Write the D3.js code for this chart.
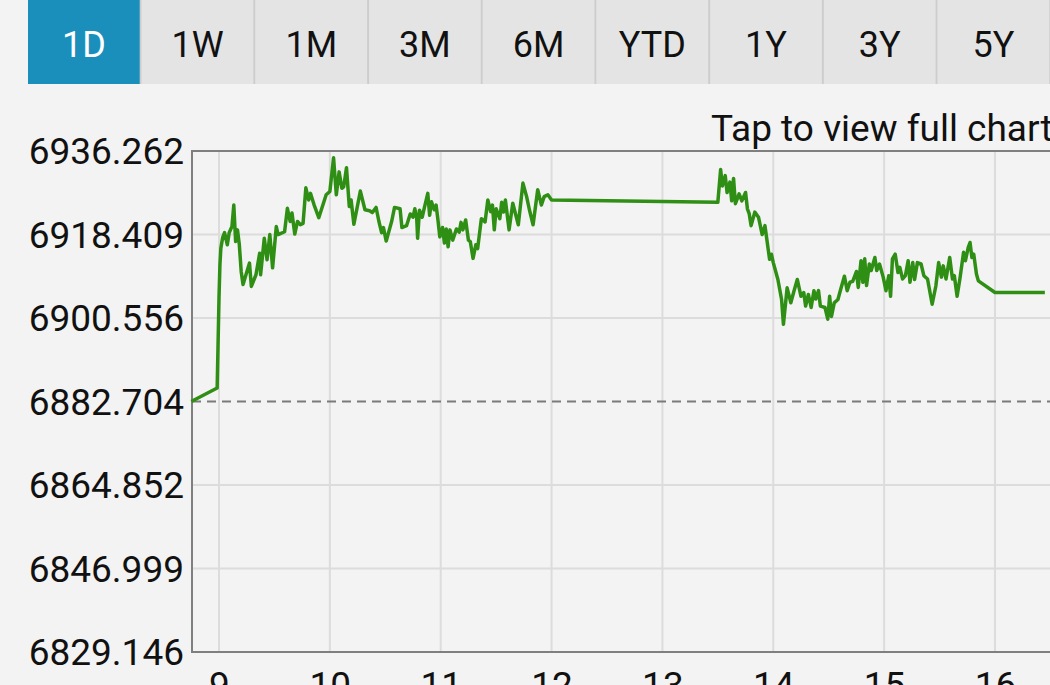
<!DOCTYPE html>
<html>
<head>
<meta charset="utf-8">
<script src="https://cdn.jsdelivr.net/npm/d3@7"></script>
<style>
  body { margin: 0; background: #f3f3f3; overflow: hidden; }
  text { font-family: Roboto, "Noto Sans", sans-serif; }
</style>
</head>
<body>
<div id="chart"></div>
<script>
var tabLabels = ['1D','1W','1M','3M','6M','YTD','1Y','3Y','5Y'];
var activeTab = '1D';
var yTicks = [6829.146, 6846.999, 6864.852, 6882.704, 6900.556, 6918.409, 6936.262];
var prevClose = 6882.704;
var xTickHours = [9,10,11,12,13,14,15,16];
var xStart = '08:45:00', xEnd = '16:30:00';

var times = [
  '08:45:00','08:59:00','09:00:00','09:00:30','09:01:00','09:02:00','09:03:00','09:04:30','09:05:30','09:07:00',
  '09:08:00','09:09:00','09:10:00','09:11:00','09:12:00','09:13:00','09:16:30','09:17:30','09:20:00','09:22:00',
  '09:22:30','09:24:30','09:26:00','09:27:30','09:29:00','09:31:00','09:32:00','09:35:30','09:37:00','09:38:30',
  '09:39:30','09:41:00','09:42:30','09:44:00','09:45:30','09:47:00','09:48:30','09:49:30','09:51:30','09:54:00',
  '09:58:00','10:00:00','10:02:00','10:03:30','10:05:00','10:06:30','10:07:30','10:09:00','10:10:30','10:11:30',
  '10:13:00','10:16:30','10:19:00','10:21:30','10:23:00','10:25:00','10:26:30','10:28:00','10:29:00','10:30:30',
  '10:33:30','10:35:00','10:38:00','10:39:00','10:41:30','10:43:30','10:45:00','10:46:00','10:47:00','10:47:30',
  '10:48:30','10:50:00','10:51:00','10:53:00','10:54:00','10:55:00','10:56:30','10:57:30','10:58:30','10:59:30',
  '11:01:00','11:02:00','11:03:00','11:04:00','11:05:00','11:06:30','11:08:30','11:10:00','11:11:00','11:12:00',
  '11:13:30','11:15:00','11:16:00','11:17:30','11:19:00','11:20:00','11:22:00','11:24:00','11:25:30','11:27:00',
  '11:28:00','11:29:00','11:30:00','11:32:00','11:33:00','11:34:00','11:35:00','11:37:00','11:39:00','11:42:00',
  '11:44:30','11:46:30','11:48:00','11:50:00','11:52:30','11:54:30','11:56:00','11:58:00','12:00:00','13:30:00',
  '13:31:30','13:32:30','13:34:00','13:35:00','13:36:30','13:37:30','13:38:30','13:39:30','13:41:30','13:43:00',
  '13:45:00','13:46:00','13:47:00','13:48:00','13:50:00','13:52:00','13:54:00','13:55:30','13:58:00','13:59:00',
  '14:00:00','14:02:30','14:04:30','14:05:30','14:07:30','14:09:30','14:11:00','14:13:00','14:15:00','14:16:30',
  '14:17:30','14:19:00','14:20:30','14:22:00','14:23:00','14:24:30','14:25:30','14:28:00','14:29:30','14:30:30',
  '14:31:30','14:33:00','14:35:00','14:36:30','14:38:30','14:40:00','14:41:30','14:43:00','14:45:00','14:46:00',
  '14:47:30','14:48:30','14:49:30','14:50:30','14:52:00','14:53:00','14:55:00','14:56:00','14:57:30','14:59:30',
  '15:01:00','15:02:30','15:03:30','15:04:30','15:06:00','15:07:30','15:08:30','15:10:00','15:11:30','15:13:00',
  '15:14:00','15:15:30','15:16:30','15:18:00','15:20:00','15:21:30','15:23:30','15:26:00','15:28:00','15:29:30',
  '15:31:00','15:32:00','15:33:30','15:35:30','15:37:00','15:38:00','15:39:30','15:41:00','15:43:00','15:44:00',
  '15:45:30','15:46:30','15:47:30','15:48:30','15:50:00','15:51:00','16:00:00','16:27:00'
];
var prices = [
  6882.70,6885.60,6905.0,6912.0,6915.5,6917.8,6918.8,6916.2,6918.8,6920.1,
  6924.7,6916.9,6919.4,6916.2,6910.5,6907.7,6912.3,6907.3,6909.8,6914.4,
  6909.8,6917.6,6913.0,6918.4,6911.3,6920.1,6918.4,6919.0,6924.0,6921.2,
  6923.0,6918.5,6921.2,6920.5,6920.8,6928.4,6925.8,6927.2,6924.7,6922.0,
  6926.9,6927.6,6934.8,6926.9,6931.8,6928.3,6928.6,6932.7,6924.4,6925.8,
  6920.6,6927.7,6923.7,6923.5,6923.1,6924.2,6921.3,6918.8,6919.9,6917.0,
  6921.3,6924.2,6923.9,6919.9,6920.3,6922.8,6922.1,6923.9,6921.9,6917.6,
  6923.6,6922.1,6923.9,6927.2,6922.5,6925.4,6923.7,6924.7,6921.5,6917.9,
  6919.9,6916.6,6919.6,6915.8,6919.4,6917.2,6919.6,6918.9,6921.0,6919.4,
  6921.5,6917.2,6916.9,6913.3,6916.2,6915.4,6921.8,6921.1,6925.8,6923.3,
  6924.7,6919.4,6923.9,6921.8,6925.3,6923.2,6925.8,6919.4,6925.1,6920.5,
  6929.4,6926.5,6923.7,6920.5,6928.0,6924.7,6926.5,6926.9,6925.8,6925.3,
  6932.3,6928.8,6931.0,6927.4,6929.6,6925.6,6930.4,6925.0,6927.1,6925.6,
  6927.4,6923.9,6922.8,6920.3,6923.2,6922.1,6918.4,6920.3,6913.1,6914.2,
  6912.4,6908.8,6904.5,6899.2,6907.0,6903.8,6906.0,6908.8,6905.2,6906.0,
  6903.1,6905.6,6902.8,6906.4,6904.6,6906.4,6903.1,6902.8,6900.3,6905.2,
  6900.9,6903.8,6904.5,6906.7,6909.5,6906.4,6908.2,6908.4,6910.5,6907.1,
  6912.8,6908.2,6913.2,6907.5,6912.1,6910.7,6913.5,6910.7,6912.1,6909.3,
  6906.4,6909.6,6905.2,6913.2,6914.2,6910.3,6911.4,6908.9,6909.6,6912.8,
  6908.2,6912.4,6908.8,6912.4,6912.1,6909.6,6908.9,6903.5,6907.4,6912.4,
  6909.3,6911.7,6908.9,6913.5,6908.9,6909.6,6905.2,6908.9,6914.6,6912.8,
  6915.6,6916.7,6913.5,6914.2,6909.9,6908.5,6906.0,6906.0
];

var width = 1050, height = 685;
var parseTime = d3.timeParse('%H:%M:%S');

var data = times.map(function(t, i){ return {t: parseTime(t), v: prices[i]}; });

var svg = d3.select('#chart').append('svg')
    .attr('width', width)
    .attr('height', height);

// period tabs
var tabX = d3.scaleBand().domain(tabLabels).range([28, 28 + 113.7 * tabLabels.length]);
var tabs = svg.selectAll('.tab').data(tabLabels).enter().append('g')
    .attr('class', 'tab')
    .attr('transform', d => 'translate(' + tabX(d) + ',0)');
tabs.append('rect')
    .attr('width', tabX.bandwidth())
    .attr('height', 84)
    .attr('fill', '#cdcdcd');
tabs.append('rect')
    .attr('width', tabX.bandwidth() - 2)
    .attr('height', 84)
    .attr('fill', d => d === activeTab ? '#1a8fbb' : '#e4e4e4');
tabs.append('text')
    .attr('x', (tabX.bandwidth() - 2) / 2)
    .attr('y', 57)
    .attr('text-anchor', 'middle')
    .style('font-size', '36px')
    .attr('fill', d => d === activeTab ? '#ffffff' : '#111111')
    .text(d => d);

svg.append('text')
    .attr('x', 711)
    .attr('y', 141)
    .style('font-size', '37px')
    .attr('fill', '#111')
    .text('Tap to view full chart');

var x = d3.scaleTime()
    .domain([parseTime(xStart), parseTime(xEnd)])
    .range([191.3, 1050.4]);
var y = d3.scaleLinear()
    .domain([yTicks[0], yTicks[yTicks.length - 1]])
    .range([652, 151]);

var hourTicks = xTickHours.map(h => parseTime(d3.format('02')(h) + ':00:00'));

// grid
svg.append('g')
    .selectAll('line.hgrid').data(yTicks.slice(1, -1).filter(v => v !== prevClose)).enter()
    .append('line')
    .attr('x1', 192).attr('x2', width)
    .attr('y1', d => y(d)).attr('y2', d => y(d))
    .attr('stroke', '#dcdcdc').attr('stroke-width', 2);
svg.append('g')
    .selectAll('line.vgrid').data(hourTicks).enter()
    .append('line')
    .attr('x1', d => x(d)).attr('x2', d => x(d))
    .attr('y1', 151).attr('y2', 652)
    .attr('stroke', '#dcdcdc').attr('stroke-width', 2);

// previous close
svg.append('line')
    .attr('x1', 192).attr('x2', width)
    .attr('y1', y(prevClose)).attr('y2', y(prevClose))
    .attr('stroke', '#7a7a7a').attr('stroke-width', 2)
    .attr('stroke-dasharray', '9,6');

// axes
var yAxis = d3.axisLeft(y).tickValues(yTicks).tickSize(0).tickPadding(8)
    .tickFormat(d3.format('.3f'));
var gy = svg.append('g').attr('transform', 'translate(192,0)').call(yAxis);
gy.select('.domain').remove();
gy.selectAll('text').style('font-size', '37px').attr('fill', '#111').attr('dy', '0.35em');

var xAxis = d3.axisBottom(x).tickValues(hourTicks).tickSize(0).tickPadding(20)
    .tickFormat(d3.timeFormat('%-H'));
var gx = svg.append('g').attr('transform', 'translate(0,652)').call(xAxis);
gx.select('.domain').remove();
gx.selectAll('text').style('font-size', '37px').attr('fill', '#111').attr('dy', '0.71em');

// frame
svg.append('path')
    .attr('d', 'M' + width + ',151H192V652H' + width)
    .attr('fill', 'none')
    .attr('stroke', '#7f7f7f')
    .attr('stroke-width', 2);

var line = d3.line()
    .x(d => x(d.t))
    .y(d => y(d.v));

svg.append('path')
    .datum(data)
    .attr('d', line)
    .attr('fill', 'none')
    .attr('stroke', '#2f8f14')
    .attr('stroke-width', 3.5)
    .attr('stroke-linejoin', 'round');
</script>
</body>
</html>
